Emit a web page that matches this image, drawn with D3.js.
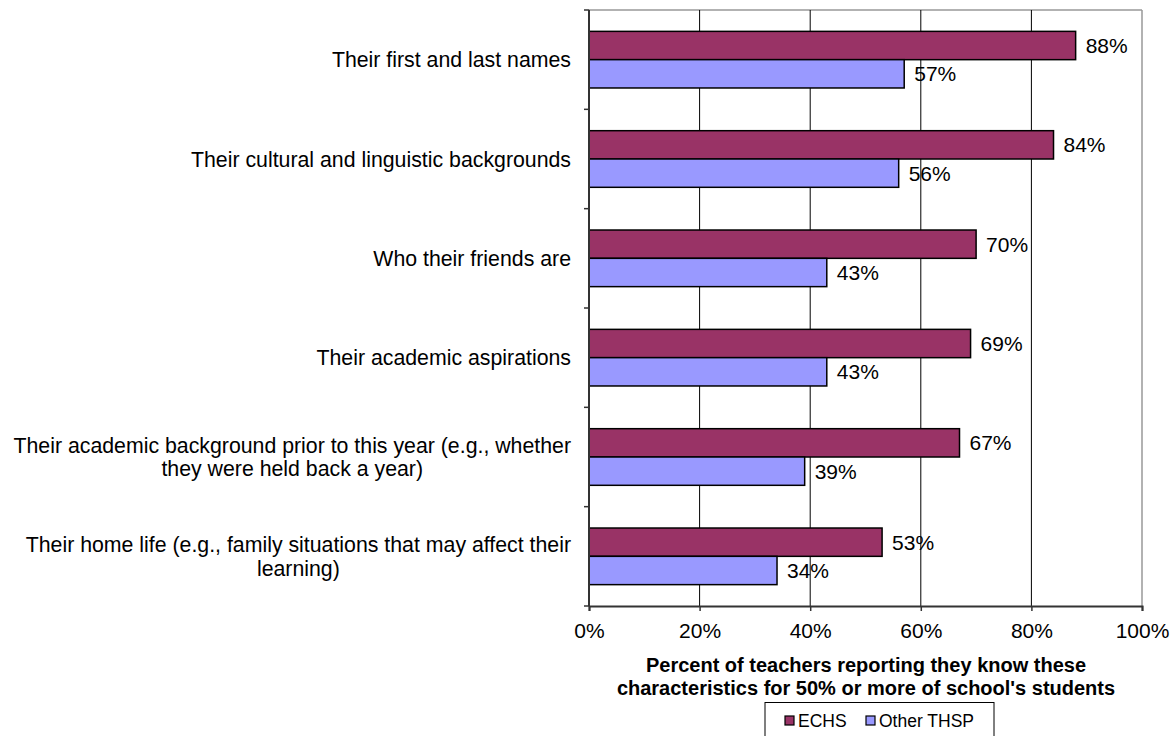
<!DOCTYPE html>
<html>
<head>
<meta charset="utf-8">
<script src="https://cdn.jsdelivr.net/npm/d3@7"></script>
<style>
  body { margin: 0; background: #fff; }
  svg { display: block; font-family: "Liberation Sans", Arial, sans-serif; }
</style>
</head>
<body>
<svg id="chart" width="1175" height="736"></svg>
<script>
// Characteristics teachers know about their students
const categories = [
  ["Their first and last names"],
  ["Their cultural and linguistic backgrounds"],
  ["Who their friends are"],
  ["Their academic aspirations"],
  ["Their academic background prior to this year (e.g., whether", "they were held back a year)"],
  ["Their home life (e.g., family situations that may affect their", "learning)"]
];
const seriesNames = ["ECHS", "Other THSP"];
const echsValues = [88, 84, 70, 69, 67, 53];
const otherValues = [57, 56, 43, 43, 39, 34];
const tickValues = [0, 20, 40, 60, 80, 100];
const axisTitle = ["Percent of teachers reporting they know these",
                   "characteristics for 50% or more of school's students"];
const colors = ["#993366", "#9999FF"];

const svg = d3.select("#chart");
const plotLeft = 589, plotRight = 1142, plotTop = 10, plotBottom = 606;
const fs = 21;

const x = d3.scaleLinear().domain([0, 100]).range([plotLeft, plotRight]);
const y = d3.scaleBand().domain(d3.range(categories.length)).range([plotTop, plotBottom])
  .paddingInner(0.43).paddingOuter(0.215);
const ySub = d3.scaleBand().domain([0, 1]).range([0, y.bandwidth()]);
const band = (plotBottom - plotTop) / categories.length;

// plot frame: grey top and right edges
svg.append("line").attr("x1", plotLeft).attr("x2", plotRight).attr("y1", plotTop).attr("y2", plotTop)
  .attr("stroke", "#999").attr("stroke-width", 1.5);
svg.append("line").attr("x1", plotRight).attr("x2", plotRight).attr("y1", plotTop).attr("y2", plotBottom)
  .attr("stroke", "#999").attr("stroke-width", 1.5);

// vertical gridlines
svg.append("g").selectAll("line").data(tickValues.filter(d => d > 0 && d < 100)).join("line")
  .attr("x1", d => x(d)).attr("x2", d => x(d)).attr("y1", plotTop).attr("y2", plotBottom)
  .attr("stroke", "#000").attr("stroke-width", 1);

// bars with value labels
const g = svg.append("g");
categories.forEach((c, i) => {
  [echsValues[i], otherValues[i]].forEach((v, s) => {
    const yy = y(i) + ySub(s);
    g.append("rect")
      .attr("x", x(0)).attr("y", yy)
      .attr("width", x(v) - x(0)).attr("height", ySub.bandwidth())
      .attr("fill", colors[s]).attr("stroke", "#000").attr("stroke-width", 1.5);
    g.append("text")
      .attr("x", x(v) + 10).attr("y", yy + ySub.bandwidth() / 2)
      .attr("dy", "0.36em").attr("font-size", fs).attr("fill", "#000")
      .text(v + "%");
  });
});

// left axis with ticks at category boundaries
svg.append("line").attr("x1", plotLeft).attr("x2", plotLeft).attr("y1", plotTop).attr("y2", plotBottom)
  .attr("stroke", "#333").attr("stroke-width", 2);
svg.append("g").selectAll("line").data(d3.range(categories.length + 1)).join("line")
  .attr("x1", plotLeft - 5).attr("x2", plotLeft)
  .attr("y1", d => plotTop + d * band).attr("y2", d => plotTop + d * band)
  .attr("stroke", "#333").attr("stroke-width", 1.5);

// bottom axis
const xAxis = d3.axisBottom(x).tickValues(tickValues).tickFormat(d => d + "%").tickSize(5).tickPadding(12);
const ax = svg.append("g").attr("transform", `translate(0,${plotBottom})`).call(xAxis);
ax.select(".domain").attr("stroke", "#333").attr("stroke-width", 2);
ax.selectAll(".tick line").attr("stroke", "#333").attr("stroke-width", 1.5);
ax.selectAll(".tick text").attr("font-size", fs).attr("fill", "#000")
  .style("font-family", "'Liberation Sans', Arial, sans-serif");

// category labels: lines centred on each other, block right-aligned to the axis
const labelRight = 571;
categories.forEach((lines, i) => {
  const cy = y(i) + y.bandwidth() / 2;
  const lh = 23.5;
  const t = svg.append("text").attr("font-size", 21.3).attr("fill", "#000").attr("text-anchor", "middle");
  const spans = lines.map((ln, k) => t.append("tspan")
    .attr("y", cy + (k - (lines.length - 1) / 2) * lh).attr("dy", "0.36em").text(ln));
  const maxW = d3.max(spans, s => s.node().getComputedTextLength());
  spans.forEach(s => s.attr("x", labelRight - maxW / 2));
});

// axis title
const tx = 866;
axisTitle.forEach((ln, k) => {
  svg.append("text").attr("x", tx).attr("y", 665 + k * 23).attr("dy", "0.36em")
    .attr("text-anchor", "middle").attr("font-size", 20).attr("font-weight", "bold")
    .attr("fill", "#000").text(ln);
});

// legend
const lg = svg.append("g");
lg.append("rect").attr("x", 765).attr("y", 702.5).attr("width", 229).attr("height", 45)
  .attr("fill", "#fff").attr("stroke", "#000").attr("stroke-width", 1);
const legendX = [785, 866];
seriesNames.forEach((n, s) => {
  lg.append("rect").attr("x", legendX[s]).attr("y", 716).attr("width", 9).attr("height", 9)
    .attr("fill", colors[s]).attr("stroke", "#000").attr("stroke-width", 1.2);
  lg.append("text").attr("x", legendX[s] + 13).attr("y", 720.5).attr("dy", "0.36em")
    .attr("font-size", 17.5).attr("fill", "#000").text(n);
});
</script>
</body>
</html>
